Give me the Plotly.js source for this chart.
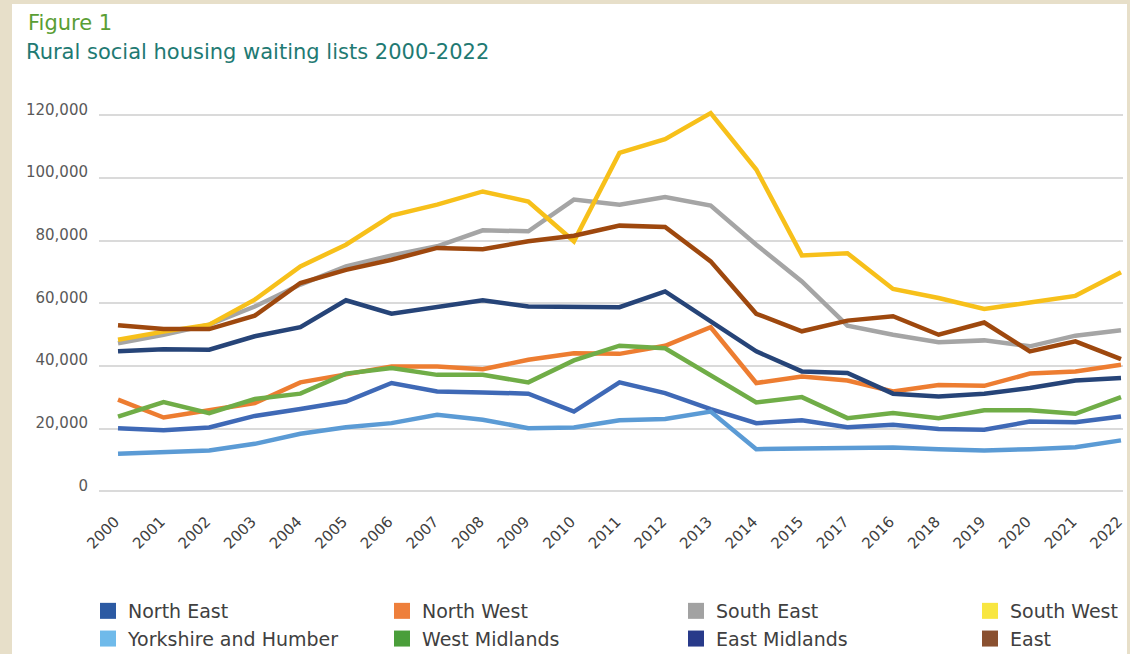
<!DOCTYPE html>
<html>
<head>
<meta charset="utf-8">
<script src="https://cdn.plot.ly/plotly-3.0.1.min.js"></script>
<style>html,body{margin:0;padding:0;background:#e7dfc9;}#chart{width:1130px;height:654px;}</style>
</head>
<body>
<div id="chart"></div>
<script>
// ---- data ----
var categories = ['2000','2001','2002','2003','2004','2005','2006','2007','2008','2009','2010','2011','2012','2013','2014','2015','2017','2016','2018','2019','2020','2021','2022'];
var seriesNames = ['North East','North West','South East','South West','Yorkshire and Humber','West Midlands','East Midlands','East'];
var northEast    = [20200,19500,20400,24100,26300,28700,34600,31900,31600,31200,25500,34800,31400,26300,21800,22700,20500,21300,19900,19700,22300,22100,23900];
var northWest    = [29300,23600,25900,28200,34800,37200,39900,39900,39000,42000,44100,43900,46500,52400,34600,36700,35400,31900,34000,33700,37600,38300,40400];
var southEast    = [47300,50000,53200,59000,66000,71800,75300,78200,83300,83000,93100,91500,93900,91200,78700,67000,52900,50000,47600,48200,46300,49700,51400];
var southWest    = [48400,51000,53200,61200,71800,78700,88000,91500,95700,92500,79800,108000,112400,120700,102700,75300,76000,64600,61700,58200,60300,62400,69900];
var yorkshire    = [12000,12600,13100,15200,18400,20500,21800,24500,22900,20200,20400,22700,23100,25500,13500,13700,14000,14000,13500,13100,13500,14100,16300];
var westMidlands = [23900,28500,25000,29500,31200,37600,39400,37200,37200,34800,41800,46500,45700,36900,28400,30100,23400,25000,23400,25900,25900,24800,30100];
var eastMidlands = [44700,45400,45200,49500,52400,61000,56700,58800,61000,59000,59000,58800,63800,54300,44700,38300,37800,31200,30300,31200,33000,35400,36200];
var east         = [53000,51800,51800,56100,66500,70700,73900,77700,77300,79800,81600,84800,84400,73400,56700,51100,54500,55900,50000,53900,44700,47900,42200];
var yTickVals = [0,20000,40000,60000,80000,100000,120000];
var yTickText = ['0','20,000','40,000','60,000','80,000','100,000','120,000'];

// ---- styles ----
var seriesValues = [northEast,northWest,southEast,southWest,yorkshire,westMidlands,eastMidlands,east];
var lineColors   = ['#3f69b6','#ed7d31','#a5a5a5','#f7c01a','#5b9bd5','#70ad47','#264478','#9e480e'];
var swatchColors = ['#2c5aa3','#ee7f3b','#a2a2a2','#f8e640','#6fbaea','#4a9e3a','#283a8a','#8a5030'];
var legendIds    = ['legend','legend2','legend3','legend4','legend','legend2','legend3','legend4'];
var FONT = 'DejaVu Sans';

var traces = [];
for (var i = 0; i < seriesNames.length; i++) {
  traces.push({
    type: 'scatter', mode: 'lines', name: seriesNames[i],
    x: categories, y: seriesValues[i],
    line: {color: lineColors[i], width: 4.5},
    showlegend: false, hoverinfo: 'x+y+name'
  });
}
for (var j = 0; j < seriesNames.length; j++) {
  traces.push({
    type: 'scatter', mode: 'markers', name: seriesNames[j],
    x: [categories[0]], y: [null],
    marker: {symbol: 'square', size: 16, color: swatchColors[j], line: {width: 0}},
    showlegend: true, legend: legendIds[j], hoverinfo: 'skip'
  });
}

function legendAt(px) {
  return {
    orientation: 'v', xref: 'container', yref: 'container',
    x: px / 1130, y: 1 - 592 / 654, xanchor: 'left', yanchor: 'top',
    bgcolor: 'rgba(0,0,0,0)', borderwidth: 0, itemwidth: 30, tracegroupgap: 0,
    font: {family: FONT, size: 19, color: '#404040'}
  };
}

var layout = {
  width: 1130, height: 654,
  paper_bgcolor: '#e7dfc9', plot_bgcolor: 'rgba(0,0,0,0)',
  margin: {l: 99, r: 7, t: 109, b: 160, pad: 0, autoexpand: false},
  title: {
    text: 'Rural social housing waiting lists 2000-2022',
    font: {family: FONT, size: 21, color: '#1f7a73'},
    xref: 'container', yref: 'container',
    x: 26 / 1130, xanchor: 'left', y: 1 - 52 / 654, yanchor: 'middle'
  },
  annotations: [{
    text: 'Figure 1', xref: 'paper', yref: 'paper',
    x: (26 - 99) / 1024, y: (494 - 22.5) / 385, xanchor: 'left', yanchor: 'middle',
    showarrow: false, font: {family: FONT, size: 21, color: '#5a9e34'}
  }],
  shapes: [{
    type: 'rect', xref: 'paper', yref: 'paper', layer: 'below',
    x0: (12 - 99) / 1024, x1: (1127 - 99) / 1024, y0: -0.5, y1: (494 - 4) / 385,
    fillcolor: '#ffffff', line: {width: 0}
  }],
  xaxis: {
    type: 'category', categoryorder: 'array', categoryarray: categories,
    range: [-0.417, 22.044], showgrid: false, zeroline: false, showline: false,
    ticks: '', tickangle: -45, ticklabelstandoff: 15, ticklabelshift: -3,
    tickfont: {family: FONT, size: 15, color: '#404040'}
  },
  yaxis: {
    range: [-800, 122000], tickmode: 'array', tickvals: yTickVals, ticktext: yTickText,
    showgrid: true, gridcolor: '#dadada', gridwidth: 2, zeroline: false, showline: false,
    ticks: '', ticklabelstandoff: 10, ticklabelshift: -6,
    tickfont: {family: FONT, size: 15, color: '#595959'}
  },
  legend: legendAt(88),
  legend2: legendAt(382),
  legend3: legendAt(676),
  legend4: legendAt(970),
  showlegend: true
};

Plotly.newPlot('chart', traces, layout, {staticPlot: true, displayModeBar: false});
</script>
</body>
</html>
